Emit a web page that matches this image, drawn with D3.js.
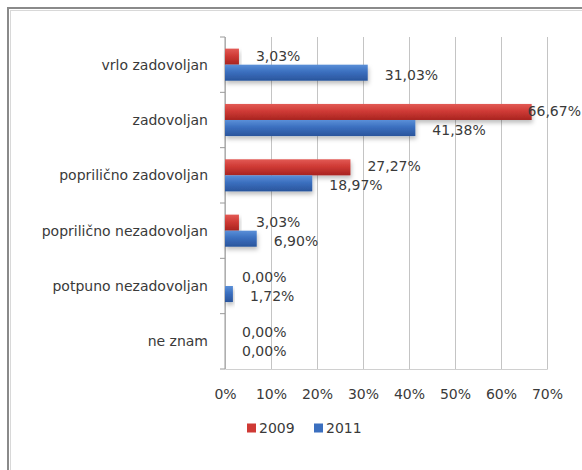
<!DOCTYPE html>
<html>
<head>
<meta charset="utf-8">
<script src="https://cdn.jsdelivr.net/npm/d3@7"></script>
<style>
  body { margin: 0; background: #fff; }
  svg text { font-family: "DejaVu Sans", "Open Sans", sans-serif; fill: #3a3a3a; }
</style>
</head>
<body>
<div id="chart"></div>
<script>
/* DATA */
const categories = ["vrlo zadovoljan", "zadovoljan", "poprilično zadovoljan",
  "poprilično nezadovoljan", "potpuno nezadovoljan", "ne znam"];
const series = ["2009", "2011"];
const values2009 = [3.03, 66.67, 27.27, 3.03, 0.00, 0.00];
const values2011 = [31.03, 41.38, 18.97, 6.90, 1.72, 0.00];
const xTicks = [0, 10, 20, 30, 40, 50, 60, 70];

/* LAYOUT */
const width = 582, height = 470;
const margin = { top: 37, bottom: 101, left: 225, right: 35 };
const colors = { "2009": "#cf3a35", "2011": "#3b6fbf" };
const fontSize = 14;

const rows = categories.map((c, i) => ({
  cat: c,
  vals: [{ s: "2009", v: values2009[i] }, { s: "2011", v: values2011[i] }]
}));

const svg = d3.select("#chart").append("svg")
  .attr("width", width)
  .attr("height", height);

// gradients for the shaded bars
const defs = svg.append("defs");
[["2009", "#e25a55", "#cf3a35", "#a82420"], ["2011", "#5a8fd8", "#3b6fbf", "#2a559c"]].forEach(([k, a, b, c]) => {
  const g = defs.append("linearGradient").attr("id", "g" + k)
    .attr("x1", 0).attr("y1", 0).attr("x2", 0).attr("y2", 1);
  g.append("stop").attr("offset", "0%").attr("stop-color", a);
  g.append("stop").attr("offset", "45%").attr("stop-color", b);
  g.append("stop").attr("offset", "100%").attr("stop-color", c);
});
const shadow = defs.append("filter").attr("id", "shadow")
  .attr("x", "-10%").attr("y", "-30%").attr("width", "130%").attr("height", "200%");
shadow.append("feDropShadow").attr("dx", 1).attr("dy", 3).attr("stdDeviation", 2)
  .attr("flood-color", "#000").attr("flood-opacity", 0.25);

// outer frame (runs off the right and bottom edge)
svg.append("rect")
  .attr("x", 8).attr("y", 8)
  .attr("width", 640).attr("height", 540)
  .attr("fill", "none")
  .attr("stroke", "#8a8a8a")
  .attr("stroke-width", 2);
svg.append("rect")
  .attr("x", 10.5).attr("y", 10.5)
  .attr("width", 640).attr("height", 540)
  .attr("fill", "none")
  .attr("stroke", "#d8d8d8")
  .attr("stroke-width", 1);

const xScale = d3.scaleLinear()
  .domain([0, 70])
  .range([margin.left, width - margin.right]);

const yScale = d3.scaleBand()
  .domain(categories)
  .range([margin.top, height - margin.bottom])
  .paddingInner(0.42)
  .paddingOuter(0.21);

const ySub = d3.scaleBand()
  .domain(series)
  .range([0, yScale.bandwidth()]);

// vertical gridlines
svg.append("g")
  .attr("class", "grid")
  .attr("transform", `translate(0,${height - margin.bottom})`)
  .call(d3.axisBottom(xScale).tickValues(xTicks)
    .tickSize(-(height - margin.top - margin.bottom)).tickFormat(""))
  .call(g => g.select(".domain").attr("stroke", "#d0d0d0"))
  .call(g => g.selectAll("line").attr("stroke", "#c4c4c4"));

// x tick labels
svg.append("g")
  .attr("class", "x-axis")
  .attr("transform", `translate(0,${height - margin.bottom})`)
  .call(d3.axisBottom(xScale).tickValues(xTicks).tickSize(0).tickPadding(20)
    .tickFormat(d => d + "%"))
  .call(g => g.select(".domain").remove())
  .call(g => g.selectAll("text").attr("font-size", fontSize)
    .attr("font-family", "DejaVu Sans").attr("fill", "#3a3a3a"));

// category axis: line + ticks between categories
const yAxisG = svg.append("g").attr("class", "y-axis");
yAxisG.append("line")
  .attr("x1", margin.left).attr("x2", margin.left)
  .attr("y1", margin.top).attr("y2", height - margin.bottom)
  .attr("stroke", "#9a9a9a");
const step = yScale.step();
yAxisG.selectAll(".tick-mark")
  .data(d3.range(categories.length + 1))
  .join("line")
  .attr("class", "tick-mark")
  .attr("x1", margin.left - 5).attr("x2", margin.left)
  .attr("y1", i => margin.top + i * step)
  .attr("y2", i => margin.top + i * step)
  .attr("stroke", "#9a9a9a");
yAxisG.selectAll(".cat-label")
  .data(categories)
  .join("text")
  .attr("class", "cat-label")
  .attr("x", margin.left - 17)
  .attr("y", d => yScale(d) + yScale.bandwidth() / 2)
  .attr("dy", "0.35em")
  .attr("text-anchor", "end")
  .attr("font-size", fontSize)
  .text(d => d);

// bars
const groups = svg.selectAll(".cat")
  .data(rows)
  .join("g")
  .attr("class", "cat")
  .attr("transform", d => `translate(0,${yScale(d.cat)})`);

groups.selectAll("rect")
  .data(d => d.vals)
  .join("rect")
  .attr("x", xScale(0))
  .attr("y", d => ySub(d.s))
  .attr("width", d => xScale(d.v) - xScale(0))
  .attr("height", ySub.bandwidth())
  .attr("fill", d => `url(#g${d.s})`)
  .attr("filter", "url(#shadow)");

// value labels
const fmt = v => v.toFixed(2).replace(".", ",") + "%";
groups.selectAll(".val")
  .data(d => d.vals)
  .join("text")
  .attr("class", "val")
  .attr("font-size", fontSize)
  .attr("y", d => ySub(d.s) + ySub.bandwidth() / 2 + (d.s === "2009" ? -1 : 2))
  .attr("dy", "0.35em")
  .text(d => fmt(d.v))
  .attr("x", function(d) {
    const w = this.getComputedTextLength();
    return Math.min(xScale(d.v) + 17, width - w - 1);
  });

// legend
const legend = svg.append("g").attr("class", "legend")
  .attr("transform", "translate(247,428)");
const item = legend.selectAll("g")
  .data(series)
  .join("g")
  .attr("transform", (d, i) => `translate(${i * 67},0)`);
item.append("rect")
  .attr("x", 0).attr("y", -4.5)
  .attr("width", 9).attr("height", 9)
  .attr("fill", d => colors[d]);
item.append("text")
  .attr("x", 12)
  .attr("dy", "0.35em")
  .attr("font-size", fontSize)
  .text(d => d);
</script>
</body>
</html>
